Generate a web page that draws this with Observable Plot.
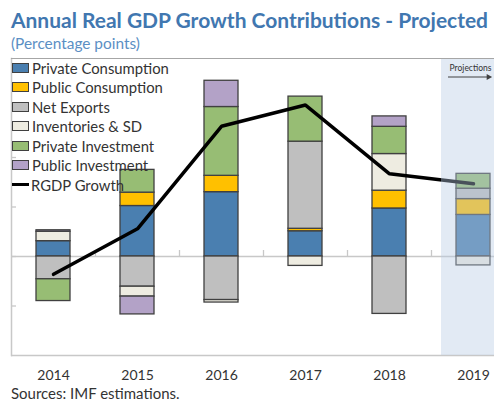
<!DOCTYPE html>
<html>
<head>
<meta charset="utf-8">
<script src="https://cdn.jsdelivr.net/npm/d3@7"></script>
<script src="https://cdn.jsdelivr.net/npm/@observablehq/plot@0.6"></script>
<style>
  html, body { margin: 0; padding: 0; background: #fff; overflow: hidden; }
  #wrap { position: relative; width: 494px; height: 409px; overflow: hidden; font-family: Lato, sans-serif; }
  #wrap svg { position: absolute; left: 0; top: 0; }
  .title { position: absolute; left: 11px; top: 19px; font-weight: 700; color: #4177b0; white-space: nowrap; line-height: 1; transform: translateY(-50%); }
  .subtitle { position: absolute; left: 11px; top: 44px; color: #5b8fc4; white-space: nowrap; line-height: 1; transform: translateY(-50%); }
  .divider { position: absolute; left: 11px; right: 0; top: 58px; height: 0; border-top: 1.5px solid #a6a6a6; }
  .legend { position: absolute; left: 12px; top: 58px; color: #333; }
  .legend .item { position: absolute; left: 0; height: 19px; white-space: nowrap; display: flex; align-items: center; }
  .legend .sw { width: 15px; height: 8px; border: 1px solid #404040; margin-right: 3px; }
  .legend .ln { width: 17px; height: 3px; background: #000; margin-right: 2px; }
  .caption { position: absolute; left: 11px; top: 393px; color: #333; white-space: nowrap; line-height: 1; transform: translateY(-50%); }
</style>
</head>
<body>
<div id="wrap"></div>
<script>
const years = ["2014", "2015", "2016", "2017", "2018", "2019"];
const seriesNames = ["Private Consumption", "Public Consumption", "Net Exports", "Inventories & SD", "Private Investment", "Public Investment"];
const seriesColors = ["#4a7fb0", "#ffc000", "#bfbfbf", "#eeece1", "#97bd74", "#b3a2c7"];
const privateConsumption = [0.31, 1.02, 1.30, 0.51, 0.97, 0.84];
const publicConsumption  = [0.00, 0.27, 0.33, 0.05, 0.36, 0.32];
const netExports         = [-0.46, -0.61, -0.88, 1.76, -1.16, 0.21];
const inventories        = [0.19, -0.20, -0.05, -0.19, 0.74, -0.18];
const privateInvestment  = [-0.44, 0.46, 1.39, 0.91, 0.55, 0.30];
const publicInvestment   = [0.03, -0.36, 0.53, 0.00, 0.21, 0.00];
const rgdpGrowth         = [-0.36, 0.56, 2.63, 3.06, 1.67, 1.47];
const lineName = "RGDP Growth";
const projectedYear = "2019";
const projectionLabel = "Projections";
const yTicks = [-1, 0, 1, 2, 3];
const titleText = "Annual Real GDP Growth Contributions - Projected";
const subtitleText = "(Percentage points)";
const captionText = "Sources: IMF estimations.";

const seriesValues = [privateConsumption, publicConsumption, netExports, inventories, privateInvestment, publicInvestment];
const bars = [];
seriesNames.forEach((s, i) => {
  years.forEach((y, j) => {
    const v = seriesValues[i][j];
    if (v !== 0) bars.push({year: y, series: s, value: v});
  });
});
const lineData = years.map((y, j) => ({year: y, value: rgdpGrowth[j]}));

// font size that makes a text a given width
const ctx = document.createElement("canvas").getContext("2d");
function fitSize(text, target, weight) {
  ctx.font = `${weight} 100px Lato`;
  return 100 * target / ctx.measureText(text).width;
}

const W = 494, H = 409;
const chart = Plot.plot({
  width: W,
  height: H,
  marginTop: 58,
  marginBottom: 54,
  marginLeft: 11,
  marginRight: 0,
  style: {fontFamily: "Lato, sans-serif", background: "transparent", overflow: "hidden"},
  x: {domain: years, range: [11, 515], paddingInner: 0.6, paddingOuter: 0.3, label: null, axis: null},
  y: {domain: [-2, 4], axis: null, label: null},
  color: {domain: seriesNames, range: seriesColors},
  marks: [
    Plot.ruleY([0], {stroke: "#c8c8c8", strokeWidth: 1.3}),
    Plot.ruleY([-2], {stroke: "#c8c8c8", strokeWidth: 1.5}),
    Plot.frame({anchor: "left", stroke: "#c8c8c8", strokeWidth: 1.5}),
    Plot.axisY({ticks: yTicks, tickSize: -5, tickFormat: () => "", label: null, stroke: "#c8c8c8", strokeWidth: 1.3}),
    Plot.ruleX(years.slice(1), {x: d => d, y1: 0, y2: 0, insetTop: -6, dx: -42, stroke: "#c8c8c8", strokeWidth: 1.3}),
    Plot.axisX({tickSize: 0, tickPadding: 15, fontSize: 14, fill: "#333", label: null}),
    Plot.barY(bars, {x: "year", y: "value", fill: "series", stroke: "#404040", strokeWidth: 1.3}),
    Plot.line(lineData, {x: "year", y: "value", stroke: "#000", strokeWidth: 3.5, strokeLinejoin: "miter"}),
    Plot.barY([projectedYear], {x: d => d, y1: -2, y2: 4, insetLeft: -15, insetRight: -26, insetTop: 1, fill: "#b6cae4", fillOpacity: 0.4}),
    Plot.text([projectionLabel], {x: () => projectedYear, y: () => 4, text: d => d, dy: 10, dx: -3, fontSize: 8.5, fill: "#333"}),
    Plot.tickY([4], {x: () => projectedYear, y: d => d, insetLeft: -8, insetRight: 2, dy: 18.5, stroke: "#404040", strokeWidth: 1.2}),
    Plot.dot([4], {x: () => projectedYear, y: d => d, dx: 15, dy: 18.5, symbol: "triangle", r: 2.3, rotate: 90, fill: "#404040", stroke: null})
  ]
});

const wrap = document.getElementById("wrap");
wrap.appendChild(chart);

const t = document.createElement("div"); t.className = "title"; t.textContent = titleText;
t.style.fontSize = fitSize(titleText, 478, 700) + "px"; wrap.appendChild(t);
const st = document.createElement("div"); st.className = "subtitle"; st.textContent = subtitleText;
st.style.fontSize = fitSize(subtitleText, 129, 400) + "px"; wrap.appendChild(st);
const dv = document.createElement("div"); dv.className = "divider"; wrap.appendChild(dv);

const lg = document.createElement("div"); lg.className = "legend";
lg.style.fontSize = fitSize(seriesNames[0], 137, 400) + "px";
seriesNames.forEach((s, i) => {
  const it = document.createElement("div"); it.className = "item"; it.style.top = (i * 19.5) + "px";
  const sw = document.createElement("span"); sw.className = "sw"; sw.style.background = seriesColors[i];
  it.appendChild(sw); it.appendChild(document.createTextNode(s)); lg.appendChild(it);
});
{
  const it = document.createElement("div"); it.className = "item"; it.style.top = (6 * 19.5) + "px";
  const ln = document.createElement("span"); ln.className = "ln";
  it.appendChild(ln); it.appendChild(document.createTextNode(lineName)); lg.appendChild(it);
}
wrap.appendChild(lg);

const cap = document.createElement("div"); cap.className = "caption"; cap.textContent = captionText;
cap.style.fontSize = fitSize(captionText, 169, 400) + "px"; wrap.appendChild(cap);
</script>
</body>
</html>
